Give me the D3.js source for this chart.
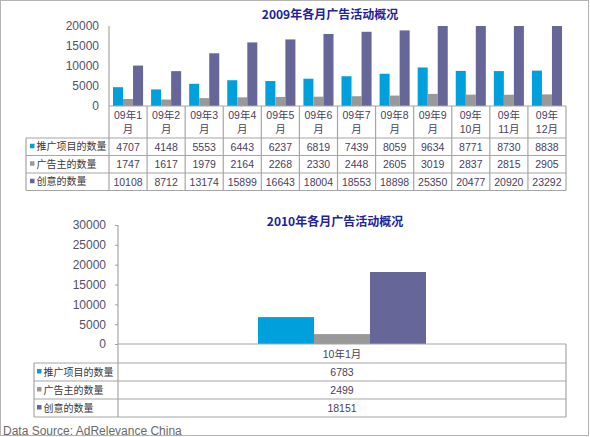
<!DOCTYPE html>
<html>
<head>
<meta charset="utf-8">
<script src="https://cdn.jsdelivr.net/npm/d3@7"></script>
<style>
body { margin: 0; background: #fff; }
svg { display: block; font-family: "Liberation Sans", Arial, "Noto Sans CJK SC", sans-serif; }
</style>
</head>
<body>
<svg id="chart" width="590" height="437"></svg>
<script>
const SERIES = ['推广项目的数量', '广告主的数量', '创意的数量']
const COLORS = ['#00a0dc', '#999999', '#666699']

const months2009 = ['09年1月', '09年2月', '09年3月', '09年4月', '09年5月', '09年6月',
	'09年7月', '09年8月', '09年9月', '09年10月', '09年11月', '09年12月']
const promo2009 = [4707, 4148, 5553, 6443, 6237, 6819, 7439, 8059, 9634, 8771, 8730, 8838]
const adv2009 = [1747, 1617, 1979, 2164, 2268, 2330, 2448, 2605, 3019, 2837, 2815, 2905]
const creative2009 = [10108, 8712, 13174, 15899, 16643, 18004, 18553, 18898, 25350, 20477, 20920, 23292]
const yTicks2009 = [0, 5000, 10000, 15000, 20000]

const months2010 = ['10年1月']
const promo2010 = [6783]
const adv2010 = [2499]
const creative2010 = [18151]
const yTicks2010 = [0, 5000, 10000, 15000, 20000, 25000, 30000]

const svg = d3.select('#chart')

// outer frame
svg.append('rect')
	.attr('x', 0.5).attr('y', 0.5)
	.attr('width', 588).attr('height', 435)
	.attr('fill', 'none')
	.attr('stroke', '#b4b4b4')

// long month labels break after 年, short ones before 月
function wrapLabel(label) {
	const i = label.indexOf('年')
	const rest = label.slice(i + 1)
	if (rest.length > 2) return [label.slice(0, i + 1), rest]
	return [label.slice(0, -1), '月']
}

function drawChart(cfg, months, series, yTicks) {
	const g = svg.append('g')
	const x = d3.scaleBand().domain(months).range([cfg.axisX, cfg.right])
	const y = d3.scaleLinear()
		.domain([0, d3.max(yTicks)])
		.range([cfg.base, cfg.top])
		.clamp(true)
	const xs = d3.scaleBand()
		.domain(d3.range(series.length))
		.range([0, x.bandwidth()])
		.paddingOuter(cfg.groupPad)

	g.append('text')
		.attr('x', cfg.titleX).attr('y', cfg.titleY)
		.attr('text-anchor', 'middle')
		.style('font-family', '"Noto Sans CJK SC", sans-serif')
		.style('font-size', '12px')
		.style('font-weight', 'bold')
		.style('fill', '#22229a')
		.text(cfg.title)

	// bars
	series.forEach((vals, s) => {
		g.append('g').selectAll('rect').data(vals).join('rect')
			.attr('x', (d, i) => x(months[i]) + xs(s))
			.attr('y', d => y(d))
			.attr('width', xs.bandwidth())
			.attr('height', d => cfg.base - y(d))
			.attr('fill', COLORS[s])
	})

	// y axis
	const axis = g.append('g')
		.attr('transform', `translate(${cfg.axisX},0)`)
		.call(d3.axisLeft(y).tickValues(yTicks).tickSize(cfg.tickLen).tickPadding(cfg.tickPad).tickFormat(d3.format('d')))
	axis.select('.domain').remove()
	axis.selectAll('line').attr('stroke', '#a0a0a0')
	axis.selectAll('text')
		.style('font-size', '12px')
		.style('fill', '#54506a')

	// table
	const rowsY = [cfg.base, cfg.base + cfg.headerH]
	series.forEach(() => rowsY.push(rowsY[rowsY.length - 1] + cfg.rowH))
	const bottom = rowsY[rowsY.length - 1]
	const grid = g.append('g')
		.attr('stroke', '#a6a6a6')
		.attr('stroke-width', 1.2)

	grid.append('line')
		.attr('x1', cfg.axisX).attr('x2', cfg.right)
		.attr('y1', cfg.base).attr('y2', cfg.base)
	grid.selectAll('.hrow').data(rowsY.slice(1)).join('line')
		.attr('x1', cfg.tableX).attr('x2', cfg.right)
		.attr('y1', d => d).attr('y2', d => d)
	grid.append('line')
		.attr('x1', cfg.tableX).attr('x2', cfg.tableX)
		.attr('y1', rowsY[1]).attr('y2', bottom)
	grid.append('line')
		.attr('x1', cfg.axisX).attr('x2', cfg.axisX)
		.attr('y1', cfg.top).attr('y2', bottom)
	grid.selectAll('.vcol').data(months).join('line')
		.attr('x1', d => x(d) + x.bandwidth()).attr('x2', d => x(d) + x.bandwidth())
		.attr('y1', cfg.base).attr('y2', bottom)

	// category labels
	const head = g.append('g')
		.style('font-size', '10.5px')
		.style('fill', '#4a4060')
	months.forEach(m => {
		const lines = cfg.wrap ? wrapLabel(m) : [m]
		const cy = cfg.base + cfg.headerH / 2
		const t = head.append('text')
			.attr('x', x(m) + x.bandwidth() / 2)
			.attr('text-anchor', 'middle')
		lines.forEach((l, k) => {
			t.append('tspan')
				.attr('x', x(m) + x.bandwidth() / 2)
				.attr('y', cy + 4 + (k - (lines.length - 1) / 2) * 14)
				.text(l)
		})
	})

	// rows
	series.forEach((vals, s) => {
		const cy = rowsY[s + 1] + cfg.rowH / 2
		g.append('rect')
			.attr('x', cfg.tableX + cfg.keyOff)
			.attr('y', cy - 3)
			.attr('width', 4.5).attr('height', 4.5)
			.attr('fill', COLORS[s])
		g.append('text')
			.attr('x', cfg.tableX + cfg.keyOff + 6.5)
			.attr('y', cy + 3.5)
			.style('font-size', '10px')
			.style('fill', '#3a3a3a')
			.text(SERIES[s])
		g.append('g').selectAll('text').data(vals).join('text')
			.attr('x', (d, i) => x(months[i]) + x.bandwidth() / 2)
			.attr('y', cy + 4)
			.attr('text-anchor', 'middle')
			.style('font-size', '10.5px')
			.style('fill', '#4a4060')
			.text(d => d)
	})
}

drawChart({
	title: '2009年各月广告活动概况', titleX: 330, titleY: 19,
	tableX: 26, axisX: 109, right: 566, top: 26, base: 106,
	headerH: 32, rowH: 17.5, groupPad: 0.4,
	tickLen: 0, tickPad: 10, keyOff: 4, wrap: true
}, months2009, [promo2009, adv2009, creative2009], yTicks2009)

drawChart({
	title: '2010年各月广告活动概况', titleX: 335, titleY: 226,
	tableX: 34, axisX: 118, right: 566, top: 225, base: 344,
	headerH: 19, rowH: 18, groupPad: 2.5,
	tickLen: 3, tickPad: 9, keyOff: 3, wrap: false
}, months2010, [promo2010, adv2010, creative2010], yTicks2010)

svg.append('text')
	.attr('x', 3).attr('y', 435)
	.style('font-size', '12px')
	.style('fill', '#6a6a6a')
	.text('Data Source: AdRelevance China')
</script>
</body>
</html>
